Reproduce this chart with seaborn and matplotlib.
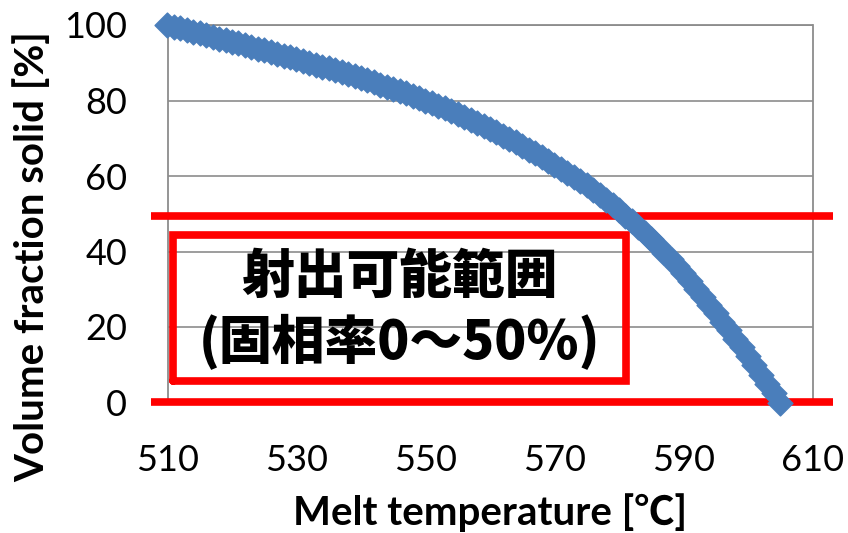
import matplotlib
matplotlib.use("Agg")
import matplotlib.pyplot as plt
import seaborn as sns
import pandas as pd

# ---- data ----
temperature = list(range(510, 606))
fraction_solid = [
    100.0, 99.6, 99.1, 98.7, 98.2, 97.8, 97.3, 96.9, 96.4, 96.0,
    95.5, 95.1, 94.6, 94.2, 93.7, 93.3, 92.8, 92.4, 91.9, 91.5,
    91.0, 90.5, 90.0, 89.5, 89.0, 88.5, 88.0, 87.5, 86.9, 86.4,
    85.9, 85.3, 84.8, 84.2, 83.7, 83.1, 82.5, 81.9, 81.3, 80.6,
    80.0, 79.3, 78.6, 77.9, 77.2, 76.5, 75.7, 74.9, 74.1, 73.3,
    72.5, 71.6, 70.7, 69.8, 68.9, 68.0, 67.0, 66.0, 65.0, 64.0,
    63.0, 61.9, 60.8, 59.8, 58.7, 57.6, 56.3, 55.0, 53.7, 52.4,
    51.0, 49.5, 48.0, 46.5, 44.9, 43.2, 41.5, 39.7, 37.9, 36.1,
    34.2, 32.2, 30.1, 28.0, 25.8, 23.6, 21.4, 19.1, 16.9, 14.6,
    12.3, 9.9, 7.4, 5.0, 2.5, 0.0,
]
x_ticks = [510, 530, 550, 570, 590, 610]
y_ticks = [0, 20, 40, 60, 80, 100]
range_limits = [0, 50]            # injectable range (fraction solid %)
box_x = [510.9, 581.1]
box_y = [5.6, 44.4]
label_lines = ["射出可能範囲", "(固相率0～50%)"]
x_label = "Melt temperature [℃]"
y_label = "Volume fraction solid [%]"

df = pd.DataFrame({"T": temperature, "fs": fraction_solid})

sns.set_theme(style="white")
plt.rcParams["font.family"] = ["Lato", "Noto Sans CJK JP", "DejaVu Sans"]
plt.rcParams["text.color"] = "black"
plt.rcParams["axes.labelcolor"] = "black"

fig = plt.figure(figsize=(8.48, 5.33), dpi=100)
ax = fig.add_axes([167.5 / 848, 1 - 402.5 / 533, 645 / 848, 377.5 / 533])

blue = "#4a7ebb"
red = "#ff0000"
gray = "#8c8c8c"

sns.scatterplot(data=df, x="T", y="fs", marker="D", s=160, color=blue,
                edgecolor=blue, linewidth=1.0, ax=ax, zorder=5, clip_on=False,
                legend=False)

ax.set_xlim(510, 610)
ax.set_ylim(0, 100)
ax.set_xticks(x_ticks)
ax.set_yticks(y_ticks)
ax.yaxis.grid(True, color=gray, linewidth=1.2)
ax.xaxis.grid(False)
ax.set_axisbelow(True)
for sp in ax.spines.values():
    sp.set_color(gray)
    sp.set_linewidth(1.3)
ax.tick_params(axis="both", length=0, labelsize=26, colors="black")
ax.tick_params(axis="y", pad=29)
ax.tick_params(axis="x", pad=30)

# red horizontal limit lines extending beyond the plot area
for yv in range_limits:
    ax.plot([507.4, 613.2], [yv + (0.2 if yv == 0 else -0.5)] * 2, color=red,
            linewidth=5.5, solid_capstyle="butt", clip_on=False, zorder=4)

# red box
ax.plot([box_x[0], box_x[1], box_x[1], box_x[0], box_x[0]],
        [box_y[0], box_y[0], box_y[1], box_y[1], box_y[0]],
        color=red, linewidth=5.5, solid_joinstyle="miter", zorder=4)

cx = (box_x[0] + box_x[1]) / 2 - 0.1
for yv, line in zip([33.2, 16.0], label_lines):
    ax.text(cx, yv, line, ha="center", va="center", fontsize=38,
            fontweight="black", color="black",
            family=["Noto Sans CJK JP", "DejaVu Sans"], zorder=3)

ax.set_xlabel(x_label, fontsize=29, fontweight="bold", color="black")
ax.set_ylabel(y_label, fontsize=29, fontweight="bold", color="black")
ax.xaxis.label.set_va("center")
ax.yaxis.label.set_va("center")
ax.xaxis.set_label_coords((490 - 167.5) / 645, (402.5 - 513) / 377.5)
ax.yaxis.set_label_coords((32 - 167.5) / 645, (402.5 - 257) / 377.5)

fig.savefig("out.png", dpi=100, facecolor="white")
